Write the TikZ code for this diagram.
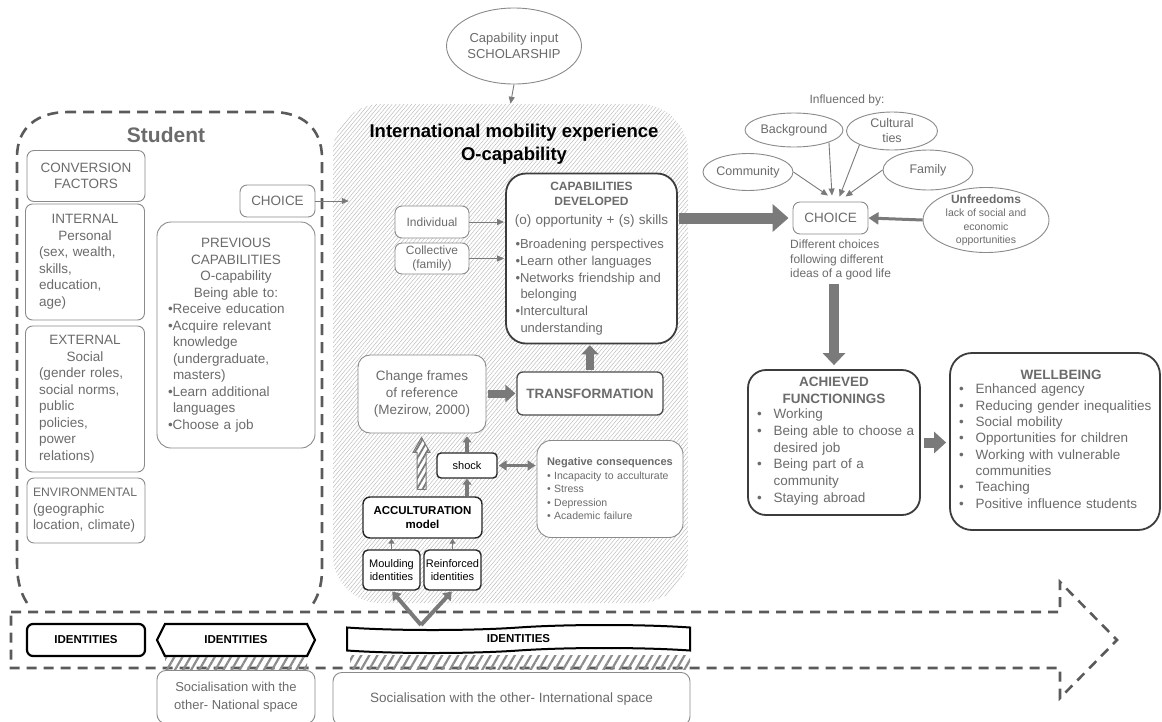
\documentclass[tikz,border=0pt]{standalone}
\usepackage{fontspec}
\setmainfont{Liberation Sans}
\usetikzlibrary{arrows.meta,shapes.geometric,shapes.symbols,patterns.meta,calc}
\setlength\parindent{0pt}
\hyphenpenalty=10000
\exhyphenpenalty=10000
\definecolor{gtext}{HTML}{6B6B6B}
\definecolor{gline}{HTML}{8A8A8A}
\definecolor{dline}{HTML}{3C3C3C}
\definecolor{garrow}{HTML}{7A7A7A}
\definecolor{dashcol}{HTML}{5A5A5A}
\definecolor{hatchcol}{HTML}{B8B8B8}
\definecolor{stripcol}{HTML}{8C8C8C}
\newcommand\fs[2]{\fontsize{#1}{#2}\selectfont}
\begin{document}
\begin{tikzpicture}[x=1pt,y=-1pt,
  every node/.style={font=\fs{13.5}{16.5}},
  gbox/.style={draw=gline,line width=0.9pt,rounded corners=7pt,fill=white,text=gtext,inner sep=1pt},
  kbox/.style={draw=dline,line width=1.8pt,rounded corners=18pt,fill=white,text=gtext,inner sep=1pt},
  blkbox/.style={draw=black!85,line width=1.4pt,rounded corners=5pt,fill=white,text=black,inner sep=1pt},
  gell/.style={ellipse,draw=gline,line width=0.9pt,fill=white,text=gtext,inner sep=0pt,align=center},
  tarrow/.style={draw=garrow,line width=0.9pt,-{Triangle[length=7pt,width=6pt]}},
  fatarrow/.style n args={3}{draw=garrow,line width=#1,-{Triangle[length=#2,width=#3]}},
  studdash/.style={draw=dashcol,line width=2.6pt,dash pattern=on 11pt off 7pt},
  ]
\useasboundingbox (0,0) rectangle (1162,721);
\clip (0,0) rectangle (1162,721);

% hatched international area
\node[pattern={Lines[angle=50,distance=3pt,line width=0.45pt]}, pattern color=hatchcol,
  rounded corners=48pt, minimum width=355pt, minimum height=499pt, inner sep=0pt] (intl) at (510.5,353.5) {};

% student dashed box
\draw[studdash] (27,603) .. controls (19,590) and (17,578) .. (17,560) -- (17,157)
  .. controls (17,127) and (38,112) .. (68,112) -- (272,112)
  .. controls (302,112) and (322,128) .. (322,158) -- (322,570)
  .. controls (322,585) and (318,598) .. (310,608);

% big dashed arrow
\draw[studdash, dash pattern=on 10pt off 7pt] (11,612) -- (1060,612) -- (1060,582) -- (1117,640) -- (1060,698) -- (1060,668) -- (11,668) -- cycle;

% Student title
\node[font=\bfseries\fs{21}{24}, text=gtext] (stud) at (166,135) {Student};

% left column
\node[gbox, minimum width=118pt, minimum height=51pt, align=center] (conv) at (86,176) {CONVERSION\\FACTORS};
\node[gbox, minimum width=119pt, minimum height=116pt, text width=92pt] (int) at (85,262)
  {{\centering INTERNAL\\Personal\par}(sex, wealth,\\skills,\\education,\\age)};
\node[gbox, minimum width=119pt, minimum height=146pt, text width=92pt] (ext) at (85,399)
  {{\centering EXTERNAL\\Social\par}(gender roles,\\social norms,\\public\\policies,\\power\\relations)};
\node[gbox, minimum width=118pt, minimum height=65pt, text width=106pt] (env) at (86,510.5)
  {{\fs{12.2}{16.5}ENVIRONMENTAL}\\(geographic\\location, climate)};

\node[gbox, minimum width=75pt, minimum height=32pt] (choiceL) at (277.5,201) {CHOICE};
\node[gbox, minimum width=158pt, minimum height=226pt, rounded corners=14pt, text width=136pt] (prev) at (236,335)
  {{\centering PREVIOUS\\CAPABILITIES\\O-capability\\Being able to:\par}%
  \raggedright
  •Receive education\\
  •Acquire relevant\\
  \hspace*{5pt}knowledge\\
  \hspace*{5pt}(undergraduate,\\
  \hspace*{5pt}masters)\\
  •Learn additional\\
  \hspace*{5pt}languages\\
  •Choose a job};

% capability input
\node[gell, minimum width=135pt, minimum height=76pt, font=\fs{13}{16}] (cap) at (514,46) {Capability input\\SCHOLARSHIP};

% international title
\node[font=\bfseries\fs{18.5}{23}, text=black, align=center] (ititle) at (514,144) {International mobility experience\\O-capability};

% inside international area
\node[gbox, minimum width=74pt, minimum height=32pt, font=\fs{12}{14}] (indiv) at (432,222) {Individual};
\node[gbox, minimum width=74pt, minimum height=31pt, font=\fs{12}{14}, align=center] (coll) at (432,258.5) {Collective\\(family)};

\node[kbox, minimum width=171pt, minimum height=170pt, rounded corners=20pt, text width=152pt, font=\fs{13}{16.8}] (capdev) at (591.5,258.5)
  {{\centering\bfseries\fs{12}{15.5}CAPABILITIES\\DEVELOPED\par}%
   {\centering\fs{13.5}{19}\makebox[152pt]{(o) opportunity + (s) skills}\par}%
   \vspace{7pt}\raggedright
   •Broadening perspectives\\
   •Learn other languages\\
   •Networks friendship and\\
   \hspace*{5pt}belonging\\
   •Intercultural\\
   \hspace*{5pt}understanding};

\node[gbox, minimum width=128pt, minimum height=78pt, rounded corners=12pt, align=center, font=\fs{13.5}{17}] (change) at (422,394)
  {Change frames\\of reference\\(Mezirow, 2000)};
\node[draw=black!70, line width=1.3pt, rounded corners=6pt, fill=white, text=gtext, minimum width=146pt, minimum height=43pt, font=\bfseries\fs{13.5}{16}] (transf) at (590,393.5) {TRANSFORMATION};

\node[blkbox, minimum width=60pt, minimum height=25pt, font=\fs{11}{13}, rounded corners=4pt] (shock) at (467,465.5) {shock};
\node[gbox, minimum width=146pt, minimum height=97pt, rounded corners=14pt, text width=126pt, align=left, font=\fs{10.5}{13.5}] (neg) at (610,489)
  {{\bfseries\fs{11}{13.5}Negative consequences}\\
   • Incapacity to acculturate\\
   • Stress\\
   • Depression\\
   • Academic failure};
\node[blkbox, minimum width=119pt, minimum height=41pt, rounded corners=7pt, align=center, font=\bfseries\fs{11.5}{14.5}] (accult) at (422.5,517.5) {ACCULTURATION\\model};
\node[blkbox, minimum width=57pt, minimum height=40pt, align=center, font=\fs{11}{13.5}] (mould) at (391.5,570) {Moulding\\identities};
\node[blkbox, minimum width=57pt, minimum height=40pt, align=center, font=\fs{11}{13.5}] (reinf) at (452.5,570) {Reinforced\\identities};

% identities row
\node[draw=black, line width=2.2pt, rounded corners=6pt, fill=white, minimum width=118pt, minimum height=32pt, font=\bfseries\fs{11.5}{14}] (id1) at (86,640) {IDENTITIES};
\node[signal, signal to=west and east, signal pointer angle=127, draw=black, line width=2.2pt, fill=white, minimum width=158pt, minimum height=32pt, inner sep=0pt, font=\bfseries\fs{11.5}{14}] (id2) at (236,640) {IDENTITIES};
\node[tape, tape bend top=in and out, tape bend bottom=in and out, tape bend height=5pt, draw=black, line width=2pt, fill=white, minimum width=343pt, minimum height=28pt, inner sep=0pt, font=\bfseries\fs{11.5}{14}] (id3) at (518.5,639) {IDENTITIES};

% hatched strips
\path[pattern={Lines[angle=60,distance=7pt,line width=2.2pt]}, pattern color=stripcol] (165,657) rectangle (307,669);
\path[pattern={Lines[angle=60,distance=7pt,line width=2.2pt]}, pattern color=stripcol] (350,655) rectangle (690,669);

% socialisation boxes
\node[gbox, minimum width=158pt, minimum height=53pt, rounded corners=9pt, align=center, font=\fs{13}{17.5}, anchor=north] (natl) at (236,670) {Socialisation with the\\other- National space};
\node[gbox, minimum width=357pt, minimum height=53pt, rounded corners=9pt, font=\fs{13.5}{16}, anchor=north] (inter) at (511.5,672) {Socialisation with the other- International space};

% right side
\node[font=\fs{12}{14}, text=gtext] (infl) at (847,100) {Influenced by:};
\node[gell, minimum width=98pt, minimum height=34pt, font=\fs{12.5}{15}] (bg) at (794,130) {Background};
\node[gell, minimum width=91pt, minimum height=38pt, font=\fs{12.5}{15}, inner sep=-2pt] (cult) at (892,131) {Cultural\\ties};
\node[gell, minimum width=90pt, minimum height=37pt, font=\fs{12.5}{15}] (comm) at (748,172) {Community};
\node[gell, minimum width=90pt, minimum height=40pt, font=\fs{12.5}{15}] (fam) at (928,170) {Family};
\node[gell, minimum width=126pt, minimum height=65pt, inner sep=-7pt, font=\fs{10.5}{13.5}] (unf) at (986,220)
  {{\bfseries\fs{12}{13.5}Unfreedoms}\\lack of social and\\economic\\opportunities};
\node[gbox, minimum width=75pt, minimum height=32pt] (choiceR) at (830.5,218) {CHOICE};
\node[anchor=north west, align=left, font=\fs{12}{14.5}, text=gtext, inner sep=0pt] (diff) at (790,240)
  {Different choices\\following different\\ideas of a good life};

\node[kbox, minimum width=172pt, minimum height=145pt, text width=162pt, font=\fs{13.5}{16.8}] (achieved) at (834,442.5)
  {{\centering\bfseries\fs{13.5}{16.8}ACHIEVED\\FUNCTIONINGS\par}%
   \vspace{2pt}%
   \begin{tabular}{@{\hspace{4pt}}l@{\hspace{12pt}}l@{}}
   • & Working\\
   • & Being able to choose a\\
     & desired job\\
   • & Being part of a\\
     & community\\
   • & Staying abroad
   \end{tabular}};
\node[kbox, minimum width=210pt, minimum height=177pt, rounded corners=22pt, text width=200pt, font=\fs{13.5}{16.3}] (wellbeing) at (1055,441.5)
  {{\centering\bfseries\fs{13.5}{16.3}\hspace*{12pt}WELLBEING\par}%
   \vspace{2pt}%
   \begin{tabular}{@{\hspace{4pt}}l@{\hspace{12pt}}l@{}}
   • & Enhanced agency\\
   • & Reducing gender inequalities\\
   • & Social mobility\\
   • & Opportunities for children\\
   • & Working with vulnerable\\
     & communities\\
   • & Teaching\\
   • & Positive influence students
   \end{tabular}};

% connectors
\draw[tarrow] (cap.south) -- (intl.north);
\draw[tarrow] (choiceL.east) -- ($(intl.west |- choiceL.east)+(16,0)$);
\draw[tarrow, shorten >=1pt] (indiv.east) -- (capdev.west |- indiv.east);
\draw[tarrow, shorten >=1pt] (coll.east) -- (capdev.west |- coll.east);
\draw[fatarrow={11pt}{16pt}{27pt}, shorten <=1pt, shorten >=4pt] (capdev.east |- choiceR.west) -- (choiceR.west);
\draw[draw=garrow, line width=3pt, -{Triangle[length=10pt,width=12pt]}] (unf.west) -- (choiceR.east);
\draw[tarrow] (comm.east) -- ($(choiceR.north)+(-2.5,-6)$);
\draw[tarrow] (bg.south east) -- ($(choiceR.north)+(1.5,-6)$);
\draw[tarrow] (cult.south west) -- ($(choiceR.north)+(9,-5)$);
\draw[tarrow] (fam.west) -- ($(choiceR.north)+(15,-5)$);
\draw[fatarrow={10pt}{12pt}{22pt}, shorten >=4pt] ($(achieved.north |- diff.south)+(0,3)$) -- (achieved.north);
\draw[fatarrow={10pt}{12pt}{21pt}, shorten <=3pt, shorten >=3pt] (achieved.east) -- (wellbeing.west |- achieved.east);
\draw[fatarrow={8pt}{10pt}{17pt}, shorten <=2pt, shorten >=1pt] (change.east |- transf.west) -- (transf.west);
\draw[fatarrow={8pt}{9pt}{17pt}, shorten <=1pt, shorten >=1pt] (transf.north) -- (transf.north |- capdev.south);
\draw[draw=garrow, line width=2.5pt, {Triangle[length=8pt,width=10pt]}-{Triangle[length=8pt,width=10pt]}, shorten <=1pt, shorten >=1pt] (shock.east) -- (neg.west |- shock.east);
\draw[fatarrow={3.5pt}{6pt}{9pt}, shorten >=3pt] (shock.north) -- (shock.north |- change.south);
\draw[fatarrow={3.5pt}{6pt}{9pt}] (accult.north -| shock.south) -- (shock.south);
\draw[draw=garrow, line width=1.2pt, -{Triangle[length=5pt,width=6pt]}] (mould.north) -- (mould.north |- accult.south);
\draw[draw=garrow, line width=1.2pt, -{Triangle[length=5pt,width=6pt]}] (reinf.north) -- (reinf.north |- accult.south);
\coordinate (vtip) at (421,625);
\draw[fatarrow={4pt}{8pt}{11pt}, shorten >=1pt] (vtip) -- (mould.south);
\draw[fatarrow={4pt}{8pt}{11pt}, shorten >=1pt] (vtip) -- (reinf.south);

% hatched up arrow from acculturation to change frames
\draw[draw=garrow, line width=1pt, preaction={fill=white},
  pattern={Lines[angle=60,distance=5pt,line width=1.8pt]}, pattern color=garrow]
  ($(accult.north)+(-5.5,-7)$) -- ($(change.south)+(-5,19)$) -- ($(change.south)+(-9,19)$)
  -- ($(change.south)+(-0.5,4)$) -- ($(change.south)+(8,19)$) -- ($(change.south)+(4,19)$)
  -- ($(accult.north)+(3.5,-7)$) -- cycle;
\end{tikzpicture}
\end{document}
